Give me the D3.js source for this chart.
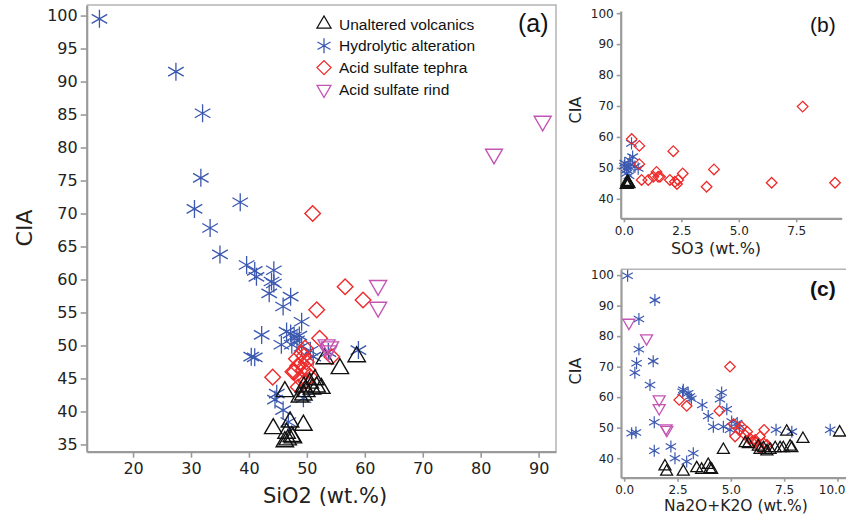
<!DOCTYPE html>
<html>
<head>
<meta charset="utf-8">
<script src="https://cdn.jsdelivr.net/npm/d3@7"></script>
<style>
  body { margin: 0; background: #fff; }
  svg { display: block; }
  .tick text { font-family: "DejaVu Sans", sans-serif; fill: #222; }
  .axis-title { font-family: "DejaVu Sans", sans-serif; fill: #222; }
  .legend text, .panel-tag { font-family: "Liberation Sans", Arial, sans-serif; fill: #111; }
</style>
</head>
<body>
<div id="chart"></div>
<script>
// ---- data: [x, CIA] pairs ----
// panel (a): SiO2 (wt.%) vs CIA
var siUnaltered = [[44.2, 37.4], [46.5, 36.7], [47.4, 36.2], [49.4, 37.9], [47.1, 38.4], [46.2, 35.4],
    [47.6, 36.0], [46.7, 35.7], [46.2, 43.0], [53.1, 48.0], [55.7, 46.5], [58.6, 48.3], [50.5, 44.3],
    [51.7, 43.7], [52.5, 43.5], [49.9, 43.0], [49.4, 42.5], [48.8, 42.2], [51.4, 44.8], [50.9, 43.4],
    [49.5, 43.7]];
var siHydrolytic = [[14.2, 99.5], [27.4, 91.5], [32.0, 85.2], [31.7, 75.4], [30.6, 70.7], [38.5, 71.7],
    [33.3, 67.8], [35.0, 63.8], [39.6, 62.2], [41.0, 61.3], [41.3, 60.4], [44.3, 61.4], [43.9, 59.7],
    [44.3, 59.4], [43.5, 57.9], [45.9, 55.9], [47.2, 57.4], [49.1, 53.6], [42.2, 51.6], [40.4, 48.3],
    [41.0, 48.2], [46.5, 52.1], [47.2, 51.8], [47.8, 51.4], [45.6, 50.1], [49.1, 49.8], [51.1, 48.3],
    [53.7, 49.0], [58.9, 49.3], [44.8, 42.7], [45.9, 40.2], [46.8, 38.4], [49.4, 42.0], [48.3, 50.8],
    [47.4, 50.1], [48.7, 51.5], [44.5, 41.8], [50.6, 49.2]];
var siTephra = [[51.0, 70.0], [56.6, 58.9], [59.7, 56.9], [51.7, 55.4], [52.2, 51.1], [44.1, 45.2],
    [49.7, 49.6], [49.1, 48.8], [48.2, 48.0], [47.6, 46.0], [49.1, 47.3], [49.9, 47.5], [49.4, 46.3],
    [50.2, 46.3], [48.8, 45.0], [48.5, 43.7], [54.3, 48.3], [47.9, 46.0], [50.5, 45.3], [49.5, 48.4],
    [48.4, 46.9], [49.8, 44.6]];
var siRind = [[90.7, 84.0], [82.3, 79.0], [62.3, 59.1], [62.3, 55.8], [53.4, 50.1], [54.0, 49.8], [53.7, 49.2]];

// panel (b): SO3 (wt.%) vs CIA
var soUnaltered = [[0.12, 44.6], [0.18, 45.0], [0.15, 45.4], [0.2, 44.8]];
var soHydrolytic = [[0.33, 57.9], [0.04, 51.5], [0.26, 52.5], [0.38, 53.6], [0.12, 49.3], [0.48, 50.4],
    [0.62, 49.8], [0.19, 50.4], [0.12, 48.2], [0.02, 50.6], [0.3, 51.0], [0.22, 47.5]];
var soTephra = [[0.34, 59.3], [0.67, 57.1], [0.67, 51.2], [0.77, 46.1], [1.06, 46.1], [1.28, 47.1],
    [1.42, 48.7], [1.49, 47.1], [1.57, 47.1], [2.15, 55.4], [2.0, 46.1], [2.22, 45.5], [2.36, 46.1],
    [2.56, 48.2], [3.60, 43.9], [3.92, 49.5], [6.43, 45.2], [7.78, 69.8], [9.19, 45.2], [2.31, 44.8]];

// panel (c): Na2O+K2O (wt.%) vs CIA
var alkUnaltered = [[1.91, 37.3], [1.99, 35.6], [2.77, 35.6], [3.40, 36.7], [3.63, 36.2], [3.94, 37.8],
    [4.10, 36.2], [4.02, 36.4], [4.65, 42.7], [5.82, 44.6], [5.67, 44.9], [6.29, 43.8], [6.53, 43.3],
    [6.37, 42.7], [6.69, 42.2], [6.84, 42.7], [7.08, 43.3], [7.31, 43.3], [7.46, 43.3], [7.78, 43.8],
    [7.86, 43.3], [7.62, 48.7], [8.38, 46.3], [10.1, 48.4]];
var alkHydrolytic = [[0.16, 99.8], [1.44, 91.8], [0.69, 85.6], [0.69, 75.7], [0.58, 71.1], [0.50, 68.0],
    [1.36, 71.8], [1.21, 64.0], [2.77, 62.4], [3.0, 61.3], [3.08, 60.2], [2.74, 61.8], [3.15, 59.5],
    [3.66, 57.4], [3.94, 53.8], [4.18, 50.3], [4.49, 59.3], [4.57, 61.5], [4.81, 56.0], [4.65, 50.3],
    [5.04, 52.0], [4.96, 49.3], [5.3, 51.5], [5.4, 50.0], [7.12, 49.3], [7.86, 48.7], [9.66, 49.3],
    [1.41, 51.8], [0.35, 48.2], [0.55, 48.4], [1.41, 42.4], [2.19, 43.8], [2.38, 40.0], [2.93, 38.9],
    [3.24, 41.6]];
var alkTephra = [[2.58, 59.1], [2.93, 57.1], [4.96, 70.0], [4.46, 55.5], [5.12, 51.2], [5.51, 50.3],
    [5.20, 47.1], [5.67, 47.6], [5.90, 46.5], [6.14, 45.4], [6.37, 47.1], [6.53, 44.9], [6.56, 49.3],
    [6.69, 44.4], [6.37, 43.3], [5.77, 48.7], [5.98, 45.4], [6.29, 44.4], [5.43, 49.3], [6.14, 46.0]];
var alkRind = [[0.22, 84.4], [1.05, 79.3], [1.64, 59.3], [1.64, 56.4], [1.96, 49.8], [2.0, 49.3]];

var groupNames = ["Unaltered volcanics", "Hydrolytic alteration", "Acid sulfate tephra", "Acid sulfate rind"];

// ---- colours ----
var cBlack = "#111111", cBlue = "#3b58b0", cRed = "#ee2a2a", cPink = "#c454b4";
var axisGray = "#9a9a9a";

var svg = d3.select("#chart").append("svg")
    .attr("width", 846)
    .attr("height", 520);

// symbol paths centred on 0,0; r is half the width
function triUp(r) {
    var h = r * 1.73;
    return "M" + (-r) + "," + (h / 3) + "L" + r + "," + (h / 3) + "L0," + (-h * 2 / 3) + "Z";
}
function triDown(r) {
    var h = r * 1.73;
    return "M" + (-r) + "," + (-h / 3) + "L" + r + "," + (-h / 3) + "L0," + (h * 2 / 3) + "Z";
}
function diamond(r) {
    return "M0," + (-r) + "L" + r + ",0L0," + r + "L" + (-r) + ",0Z";
}
function star(r) {
    var dx = r * Math.cos(Math.PI / 6), dy = r * Math.sin(Math.PI / 6);
    return "M0," + (-r) + "L0," + r +
        "M" + (-dx) + "," + (-dy) + "L" + dx + "," + dy +
        "M" + (-dx) + "," + dy + "L" + dx + "," + (-dy);
}

function drawPoints(g, data, x, y, shape, size, color, width) {
    g.append("g").selectAll("path")
        .data(data)
        .enter()
        .append("path")
        .attr("transform", function (d) { return "translate(" + x(d[0]) + "," + y(d[1]) + ")"; })
        .attr("d", shape(size))
        .attr("fill", "none")
        .attr("stroke", color)
        .attr("stroke-width", width);
}

function styleAxis(sel, fontSize) {
    sel.select(".domain").attr("stroke", axisGray).attr("stroke-width", 2.2);
    sel.selectAll(".tick line").attr("stroke", axisGray).attr("stroke-width", 1.6);
    sel.selectAll(".tick text").style("font-size", fontSize + "px");
}

// ---------- panel (a) ----------
var xA = d3.scaleLinear().domain([12, 93]).range([86.7, 556]);
var yA = d3.scaleLinear().domain([33.9, 101.6]).range([451.7, 5]);

var gA = svg.append("g");
// light frame on top / right
gA.append("path")
    .attr("d", "M" + xA.range()[0] + "," + yA.range()[1] + "H" + xA.range()[1] + "V" + yA.range()[0])
    .attr("fill", "none").attr("stroke", "#b4b4b4").attr("stroke-width", 1.5);

gA.append("g")
    .attr("transform", "translate(" + xA.range()[0] + ",0)")
    .call(d3.axisLeft(yA).tickValues(d3.range(35, 101, 5)).tickSize(6).tickPadding(3).tickSizeOuter(0))
    .call(styleAxis, 16);
gA.append("g")
    .attr("transform", "translate(0," + yA.range()[0] + ")")
    .call(d3.axisBottom(xA).tickValues(d3.range(20, 91, 10)).tickSize(6).tickPadding(5).tickSizeOuter(0))
    .call(styleAxis, 16);

gA.append("text").attr("class", "axis-title")
    .attr("transform", "translate(32,228)rotate(-90)")
    .attr("text-anchor", "middle")
    .style("font-size", "22px")
    .text("CIA");
gA.append("text").attr("class", "axis-title")
    .attr("x", 325).attr("y", 503)
    .attr("text-anchor", "middle")
    .style("font-size", "21px")
    .text("SiO2 (wt.%)");

drawPoints(gA, siHydrolytic, xA, yA, star, 9, cBlue, 1.3);
drawPoints(gA, siTephra, xA, yA, diamond, 7.8, cRed, 1.4);
drawPoints(gA, siUnaltered, xA, yA, triUp, 8.7, cBlack, 1.4);
drawPoints(gA, siRind, xA, yA, triDown, 8.5, cPink, 1.4);

gA.append("text").attr("class", "panel-tag")
    .attr("x", 518).attr("y", 32)
    .style("font-size", "25px")
    .text("(a)");

// legend
var legend = gA.append("g").attr("class", "legend");
var legShapes = [triUp, star, diamond, triDown];
var legColors = [cBlack, cBlue, cRed, cPink];
groupNames.forEach(function (name, i) {
    var ly = 24 + i * 21.8;
    legend.append("path")
        .attr("transform", "translate(324," + ly + ")")
        .attr("d", legShapes[i](i === 1 ? 7.5 : 7))
        .attr("fill", "none")
        .attr("stroke", legColors[i])
        .attr("stroke-width", 1.3);
    legend.append("text")
        .attr("x", 339).attr("y", ly + 5.5)
        .style("font-size", "15.5px")
        .text(name);
});

// ---------- panel (b) ----------
var xB = d3.scaleLinear().domain([-0.14, 9.48]).range([620.7, 841.7]);
var yB = d3.scaleLinear().domain([33.7, 100.7]).range([218.3, 11]);
var gB = svg.append("g");

gB.append("g")
    .attr("transform", "translate(" + xB.range()[0] + ",0)")
    .call(d3.axisLeft(yB).tickValues(d3.range(40, 101, 10)).tickSize(4).tickPadding(3).tickSizeOuter(0))
    .call(styleAxis, 12);
gB.append("g")
    .attr("transform", "translate(0," + yB.range()[0] + ")")
    .call(d3.axisBottom(xB).tickValues([0, 2.5, 5, 7.5]).tickFormat(d3.format(".1f"))
        .tickSize(4).tickPadding(4).tickSizeOuter(0))
    .call(styleAxis, 12);

gB.append("text").attr("class", "axis-title")
    .attr("transform", "translate(581,110)rotate(-90)")
    .attr("text-anchor", "middle")
    .style("font-size", "16px")
    .text("CIA");
gB.append("text").attr("class", "axis-title")
    .attr("x", 716).attr("y", 254)
    .attr("text-anchor", "middle")
    .style("font-size", "16px")
    .text("SO3 (wt.%)");

drawPoints(gB, soHydrolytic, xB, yB, star, 6.2, cBlue, 1.2);
drawPoints(gB, soTephra, xB, yB, diamond, 5.3, cRed, 1.3);
drawPoints(gB, soUnaltered, xB, yB, triUp, 6, cBlack, 1.8);

gB.append("text").attr("class", "panel-tag")
    .attr("x", 810).attr("y", 32)
    .style("font-size", "21px")
    .text("(b)");

// ---------- panel (c) ----------
var xC = d3.scaleLinear().domain([-0.15, 10.4]).range([621, 846]);
var yC = d3.scaleLinear().domain([33.6, 101.9]).range([477.7, 269.3]);
var gC = svg.append("g");

gC.append("line")
    .attr("x1", xC.range()[0]).attr("x2", xC.range()[1])
    .attr("y1", yC.range()[1]).attr("y2", yC.range()[1])
    .attr("stroke", "#b4b4b4").attr("stroke-width", 1.5);

gC.append("g")
    .attr("transform", "translate(" + xC.range()[0] + ",0)")
    .call(d3.axisLeft(yC).tickValues(d3.range(40, 101, 10)).tickSize(4).tickPadding(3).tickSizeOuter(0))
    .call(styleAxis, 12);
var xAxisC = gC.append("g")
    .attr("transform", "translate(0," + yC.range()[0] + ")")
    .call(d3.axisBottom(xC).tickValues([0, 2.5, 5, 7.5, 10]).tickFormat(d3.format(".1f"))
        .tickSize(4).tickPadding(4).tickSizeOuter(0))
    .call(styleAxis, 12);
// last label sits against the page edge, as in the original
xAxisC.selectAll(".tick").filter(function (d) { return d === 10; })
    .select("text")
    .attr("text-anchor", "end")
    .attr("x", 845 - xC(10));

gC.append("text").attr("class", "axis-title")
    .attr("transform", "translate(581,371)rotate(-90)")
    .attr("text-anchor", "middle")
    .style("font-size", "16px")
    .text("CIA");
gC.append("text").attr("class", "axis-title")
    .attr("x", 736).attr("y", 511)
    .attr("text-anchor", "middle")
    .style("font-size", "15.5px")
    .text("Na2O+K2O (wt.%)");

drawPoints(gC, alkHydrolytic, xC, yC, star, 6, cBlue, 1.2);
drawPoints(gC, alkTephra, xC, yC, diamond, 5.2, cRed, 1.3);
drawPoints(gC, alkUnaltered, xC, yC, triUp, 6, cBlack, 1.3);
drawPoints(gC, alkRind, xC, yC, triDown, 6, cPink, 1.3);

gC.append("text").attr("class", "panel-tag")
    .attr("x", 810).attr("y", 296)
    .style("font-size", "21px")
    .style("font-weight", "bold")
    .text("(c)");
</script>
</body>
</html>
